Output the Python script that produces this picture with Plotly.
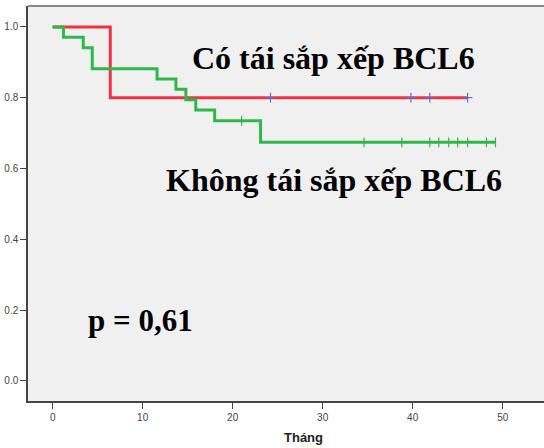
import plotly.graph_objects as go

# Data
red_times = [0, 6.4]
red_surv = [1.0, 0.8]
red_end = 46.1
red_censor_t = [24.2, 39.8, 41.9, 46.1]

green_times = [0, 1.2, 3.4, 4.4, 11.6, 13.7, 14.8, 15.9, 18.0, 23.1]
green_surv = [1.0, 0.971, 0.941, 0.882, 0.853, 0.824, 0.794, 0.765, 0.735, 0.674]
green_end = 49.2
green_censor_t = [21.0, 34.6, 38.8, 41.9, 42.9, 44.0, 45.0, 46.1, 48.2, 49.2]

x_ticks = [0, 10, 20, 30, 40, 50]
y_ticks = [0.0, 0.2, 0.4, 0.6, 0.8, 1.0]

RED = "#ef3340"
GREEN = "#2fb84a"


def surv_at(times, surv, t):
    v = surv[0]
    for ti, si in zip(times, surv):
        if ti <= t:
            v = si
    return v


fig = go.Figure()

fig.add_trace(go.Scatter(
    x=red_times + [red_end], y=red_surv + [red_surv[-1]],
    mode="lines", line=dict(color=RED, width=3, shape="hv"),
    showlegend=False, hoverinfo="skip"))
fig.add_trace(go.Scatter(
    x=red_censor_t, y=[surv_at(red_times, red_surv, t) for t in red_censor_t],
    mode="markers",
    marker=dict(symbol="cross-thin", size=7, line=dict(color="#5a6fd0", width=1.2)),
    showlegend=False, hoverinfo="skip"))

fig.add_trace(go.Scatter(
    x=green_times + [green_end], y=green_surv + [green_surv[-1]],
    mode="lines", line=dict(color=GREEN, width=3, shape="hv"),
    showlegend=False, hoverinfo="skip"))
fig.add_trace(go.Scatter(
    x=green_censor_t, y=[surv_at(green_times, green_surv, t) for t in green_censor_t],
    mode="markers",
    marker=dict(symbol="line-ns", size=7, line=dict(color=GREEN, width=1.2)),
    showlegend=False, hoverinfo="skip"))

serif = "Liberation Serif, Times New Roman, serif"
fig.add_annotation(x=15.3, y=0.912, xref="x", yref="y", text="<b>Có tái sắp xếp BCL6</b>",
                   showarrow=False, xanchor="left", yanchor="middle",
                   font=dict(family=serif, size=32, color="black"))
fig.add_annotation(x=12.4, y=0.567, xref="x", yref="y", text="<b>Không tái sắp xếp BCL6</b>",
                   showarrow=False, xanchor="left", yanchor="middle",
                   font=dict(family=serif, size=32, color="black"))
fig.add_annotation(x=3.7, y=0.172, xref="x", yref="y", text="<b>p = 0,61</b>",
                   showarrow=False, xanchor="left", yanchor="middle",
                   font=dict(family=serif, size=31, color="black"))
fig.add_annotation(x=290.7 / 544, y=0, xref="paper", yref="paper", yshift=-36,
                   text="<b>Tháng</b>", showarrow=False, xanchor="center", yanchor="middle",
                   font=dict(family="Liberation Sans, Arial, sans-serif", size=13, color="#222"))

# top border
fig.add_shape(type="line", xref="paper", yref="paper", x0=0, x1=1, y0=1, y1=1,
              line=dict(color="#888888", width=2))

fig.update_layout(
    width=544, height=448,
    margin=dict(l=28, r=0, t=6, b=47, autoexpand=False),
    paper_bgcolor="white", plot_bgcolor="#f0f0f0",
    font=dict(family="Liberation Sans, Arial, sans-serif", size=10, color="#444"),
)
fig.update_xaxes(range=[-2.74, 54.59], tickvals=x_ticks, ticktext=[str(v) for v in x_ticks],
                 ticks="outside", ticklen=6, tickcolor="#444", tickwidth=1, automargin=False,
                 showgrid=False, zeroline=False, showline=True, linecolor="#444", linewidth=1.5)
fig.update_yaxes(range=[-0.0565, 1.059], tickvals=y_ticks, ticktext=[f"{v:.1f}" for v in y_ticks],
                 ticks="outside", ticklen=6, tickcolor="#444", tickwidth=1, automargin=False,
                 showgrid=False, zeroline=False, showline=True, linecolor="#444", linewidth=1.5)

fig.write_html("out.html", config={"displayModeBar": False},
               post_script="document.body.style.margin='0';document.body.style.overflow='hidden';")
